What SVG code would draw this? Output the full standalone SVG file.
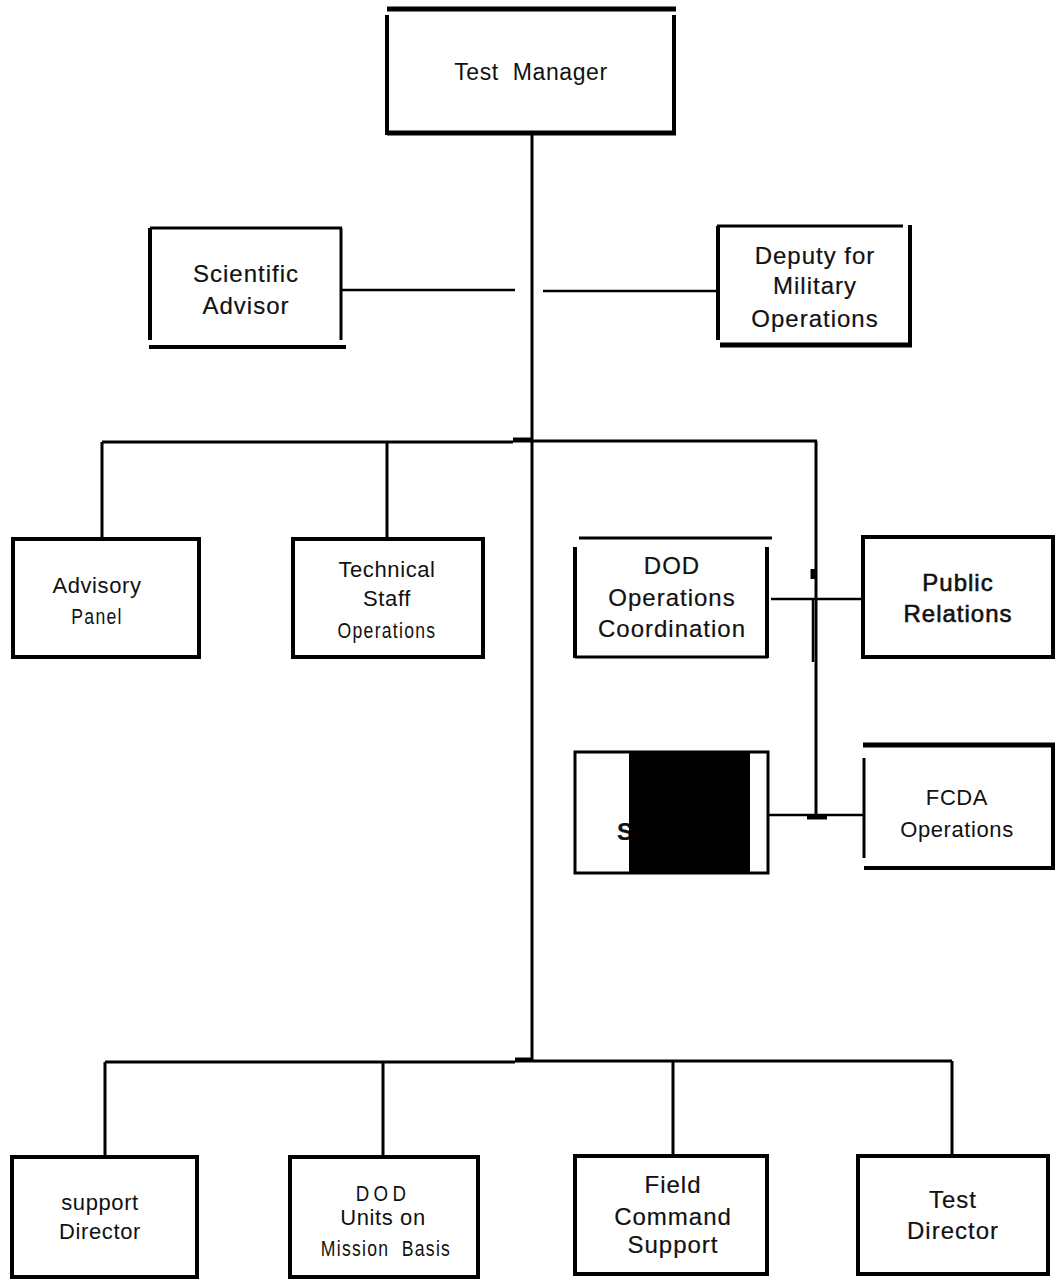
<svg xmlns="http://www.w3.org/2000/svg" width="1061" height="1287" viewBox="0 0 1061 1287">
<style>
.bx{fill:none;stroke:#000;stroke-width:4}
.ln{fill:none;stroke:#000;stroke-width:3}
.th{fill:none;stroke:#000;stroke-width:5}
.tn{fill:none;stroke:#000;stroke-width:2.5}
text{font-family:"Liberation Sans",Arial,sans-serif;fill:#111;text-anchor:middle;white-space:pre}
.a{font-size:22px;letter-spacing:0.6px}
.b{font-size:24px;letter-spacing:1px;stroke:#111;stroke-width:0.2px}
.c{font-size:22px;letter-spacing:1.6px}
</style>
<rect width="1061" height="1287" fill="#fff"/>
<g id="connectors">
<path class="ln" d="M532 133V1062"/>
<path class="tn" d="M342 290H515M543 291H717"/>
<path class="ln" d="M102 442H513M532 441H817"/>
<path class="th" d="M513 440H532"/>
<path class="ln" d="M102 442V539M387 442V539"/>
<path class="ln" d="M816 441V817"/>
<path class="th" d="M813 569V579"/>
<path class="tn" d="M813 600V662"/>
<path class="tn" d="M771 599H863"/>
<path class="tn" d="M768 815H863"/>
<path class="th" d="M807 817H827"/>
<path class="ln" d="M105 1062H515M532 1061H952"/>
<path class="th" d="M515 1060H532"/>
<path class="ln" d="M105 1062V1157M383 1062V1157M673 1061V1156M952 1061V1156"/>
</g>
<g id="test-manager">
<path class="th" d="M387 9H676M387 133H676"/>
<path class="bx" d="M387 15V135M674 15V135"/>
<text class="a" x="531" y="80" style="font-size:23px">Test  Manager</text>
</g>
<g id="scientific-advisor">
<path class="ln" d="M150 228H342M341 228V340"/>
<path class="bx" d="M150 228V340M149 347H346"/>
<text class="b" x="246" y="282">Scientific</text>
<text class="b" x="246" y="314">Advisor</text>
</g>
<g id="deputy">
<path class="ln" d="M717 226H903"/>
<path class="bx" d="M718 226V340M910 225V346"/>
<path class="th" d="M720 345H912"/>
<text class="b" x="815" y="264">Deputy for</text>
<text class="b" x="815" y="294">Military</text>
<text class="b" x="815" y="327">Operations</text>
</g>
<g id="advisory-panel">
<rect class="bx" x="13" y="539" width="186" height="118"/>
<text class="a" x="97" y="593">Advisory</text>
<text class="c" transform="translate(97 624) scale(0.8 1)">Panel</text>
</g>
<g id="technical-staff">
<rect class="bx" x="293" y="539" width="190" height="118"/>
<text class="a" x="387" y="577">Technical</text>
<text class="a" x="387" y="606">Staff</text>
<text class="c" transform="translate(387 638) scale(0.8 1)">Operations</text>
</g>
<g id="dod-ops">
<path class="ln" d="M579 538H772M575 657H768"/>
<path class="bx" d="M575 547V658M767 547V658"/>
<text class="b" x="672" y="574">DOD</text>
<text class="b" x="672" y="606">Operations</text>
<text class="b" x="672" y="637">Coordination</text>
</g>
<g id="public-relations">
<rect class="bx" x="863" y="537" width="190" height="120"/>
<text class="b" x="958" y="591" style="stroke-width:0.6px">Public</text>
<text class="b" x="958" y="622" style="stroke-width:0.6px">Relations</text>
</g>
<g id="security">
<rect class="ln" x="575" y="752" width="193" height="121"/>
<text class="b" x="617" y="840" style="text-anchor:start;font-weight:bold">S</text>
<rect x="629" y="752" width="121" height="121" fill="#000"/>
</g>
<g id="fcda">
<path class="th" d="M863 745H1055"/>
<path class="ln" d="M864 758V858"/>
<path class="bx" d="M1053 745V870M864 868H1055"/>
<text class="a" x="957" y="805">FCDA</text>
<text class="a" x="957" y="837">Operations</text>
</g>
<g id="support-director">
<rect class="bx" x="12" y="1157" width="185" height="120"/>
<text class="a" x="100" y="1210">support</text>
<text class="a" x="100" y="1239">Director</text>
</g>
<g id="dod-units">
<rect class="bx" x="290" y="1157" width="188" height="120"/>
<text class="c" transform="translate(383 1201) scale(0.85 1)" style="letter-spacing:5px">DOD</text>
<text class="a" x="383" y="1225">Units on</text>
<text class="c" transform="translate(386 1256) scale(0.8 1)">Mission  Basis</text>
</g>
<g id="field-command">
<rect class="bx" x="575" y="1156" width="192" height="118"/>
<text class="b" x="673" y="1193">Field</text>
<text class="b" x="673" y="1225">Command</text>
<text class="b" x="673" y="1253">Support</text>
</g>
<g id="test-director">
<rect class="bx" x="858" y="1156" width="190" height="118"/>
<text class="b" x="953" y="1208">Test</text>
<text class="b" x="953" y="1239">Director</text>
</g>
</svg>
